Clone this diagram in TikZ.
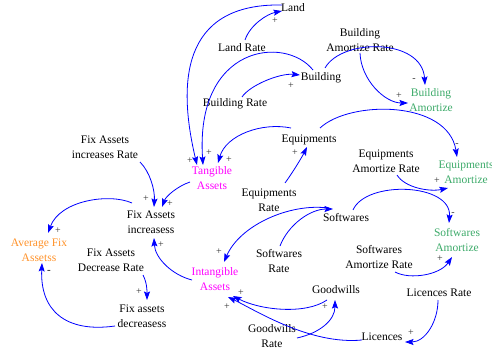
\documentclass[tikz,border=0pt]{standalone}
\usepackage{fontspec}
\setmainfont{Liberation Serif}
\usetikzlibrary{arrows.meta}
\definecolor{linkblue}{RGB}{0,0,255}
\definecolor{amortgreen}{RGB}{60,170,105}
\definecolor{avgorange}{RGB}{255,145,40}
\definecolor{assetpink}{RGB}{255,0,255}
\definecolor{signgray}{RGB}{50,50,50}
\begin{document}
\begin{tikzpicture}[x=1pt,y=-1pt,
  var/.style={inner sep=1pt,align=center,font=\fontsize{11.5}{14.5}\selectfont},
  sign/.style={inner sep=0pt,text=signgray,font=\fontsize{10}{10}\selectfont},
  link/.style={draw=linkblue,line width=0.8pt,-{Stealth[length=8.5pt,width=6pt,inset=1.5pt]}}]
\useasboundingbox (0,0) rectangle (492,353);

% variables
\node[var] (land) at (293,8) {Land};
\node[var] (landrate) at (242,48) {Land Rate};
\node[var] (building) at (321,78) {Building};
\node[var] (buildingrate) at (235,104) {Building Rate};
\node[var] (bar) at (360,40) {Building\\Amortize Rate};
\node[var,text=amortgreen] (bam) at (431,100) {Building\\Amortize};
\node[var,text=assetpink] (tangible) at (212,178) {Tangible\\Assets};
\node[var] (equip) at (309,140) {Equipments};
\node[var] (eqrate) at (269,200) {Equipments\\Rate};
\node[var] (eqar) at (386,161) {Equipments\\Amortize Rate};
\node[var,text=amortgreen] (eqam) at (466,172) {Equipments\\Amortize};
\node[var] (soft) at (346,218) {Softwares};
\node[var,text=amortgreen] (swam) at (457,240) {Softwares\\Amortize};
\node[var] (swar) at (379,257) {Softwares\\Amortize Rate};
\node[var] (swrate) at (279,261) {Softwares\\Rate};
\node[var] (licrate) at (439,293) {Licences Rate};
\node[var] (lic) at (382,337) {Licences};
\node[var] (good) at (336,290) {Goodwills};
\node[var] (goodrate) at (272,336) {Goodwills\\Rate};
\node[var,text=assetpink] (intang) at (215,279) {Intangible\\Assets};
\node[var] (fixrate) at (105,147) {Fix Assets\\increases Rate};
\node[var] (fixinc) at (151,222) {Fix Assets\\increasess};
\node[var,text=avgorange] (avg) at (39,250) {Average Fix\\Assetss};
\node[var] (fixdecrate) at (111,260) {Fix Assets\\Decrease Rate};
\node[var] (fixdec) at (142,316) {Fix assets\\decreasess};

% causal links
\draw[link] ([shift={(3,-8)}]landrate.center) .. controls +(5,-15) and +(-15,3) .. ([shift={(-11,3)}]land.center);
\draw[link] ([shift={(-11,-3)}]land.center) .. controls +(-102,-2) and +(-19,-80) .. ([shift={(-15,-13)}]tangible.center);
\draw[link] ([shift={(-8,-8)}]building.center) .. controls +(-28,-35) and +(-8,-120) .. ([shift={(-9,-13)}]tangible.center);
\draw[link] ([shift={(7,-7)}]buildingrate.center) .. controls +(8,-12) and +(-20,-2) .. ([shift={(-21,-3)}]building.center);
\draw[link] ([shift={(4,-10)}]building.center) .. controls +(17,-30) and +(-3,-47) .. ([shift={(-6,-15)}]bam.center);
\draw[link] ([shift={(0,13)}]bar.center) .. controls +(1,27) and +(-23,0) .. ([shift={(-23,3)}]bam.center);
\draw[link] ([shift={(-18,-12)}]equip.center) .. controls +(-29,-6) and +(8,-28) .. ([shift={(6,-15)}]tangible.center);
\draw[link] ([shift={(16,-17)}]eqrate.center) .. controls +(8,-11) and +(-5,10) .. ([shift={(-2,7)}]equip.center);
\draw[link] ([shift={(11,-12)}]equip.center) .. controls +(30,-28) and +(-9,-57) .. ([shift={(-9,-15)}]eqam.center);
\draw[link] ([shift={(11,14)}]eqar.center) .. controls +(8,13) and +(-18,4) .. ([shift={(-18,16)}]eqam.center);
\draw[link] ([shift={(1,-15)}]swrate.center) .. controls +(8,-21) and +(-23,0) .. ([shift={(-13,-9)}]soft.center);
\draw[link] ([shift={(-18,-10)}]soft.center) .. controls +(-38,-5) and +(16,-37) .. ([shift={(9,-17)}]intang.center);
\draw[link] ([shift={(7,-8)}]soft.center) .. controls +(13,-30) and +(3,-40) .. ([shift={(-8,-17)}]swam.center);
\draw[link] ([shift={(16,15)}]swar.center) .. controls +(15,8) and +(-12,18) .. ([shift={(-5,17)}]swam.center);
\draw[link] ([shift={(-1,7)}]licrate.center) .. controls +(0,22) and +(20,0) .. ([shift={(23,5)}]lic.center);
\draw[link] ([shift={(-20,3)}]lic.center) .. controls +(-52,5) and +(27,13) .. ([shift={(13,18)}]intang.center);
\draw[link] ([shift={(-9,10)}]good.center) .. controls +(-22,15) and +(27,14) .. ([shift={(18,17)}]intang.center);
\draw[link] ([shift={(25,2)}]goodrate.center) .. controls +(23,-5) and +(0,20) .. ([shift={(-1,10)}]good.center);
\draw[link] ([shift={(-22,4)}]tangible.center) .. controls +(-12,4) and +(4,-11) .. ([shift={(11,-15)}]fixinc.center);
\draw[link] ([shift={(35,15)}]fixrate.center) .. controls +(10,10) and +(1,-17) .. ([shift={(3,-15)}]fixinc.center);
\draw[link] ([shift={(-19,-19)}]fixinc.center) .. controls +(-22,-10) and +(12,-33) .. ([shift={(9,-17)}]avg.center);
\draw[link] ([shift={(-23,1)}]intang.center) .. controls +(-20,-5) and +(1,20) .. ([shift={(3,16)}]fixinc.center);
\draw[link] ([shift={(32,15)}]fixdecrate.center) .. controls +(4,8) and +(0,-10) .. ([shift={(5,-16)}]fixdec.center);
\draw[link] ([shift={(-27,10)}]fixdec.center) .. controls +(-50,7) and +(-2,47) .. ([shift={(3,13)}]avg.center);

% polarity signs
\node[sign] (p1) at (275,21) {+};
\node[sign] (p2) at (291,86) {+};
\node[sign] (m1) at (414,80) {-};
\node[sign] (p3) at (399,96) {+};
\node[sign] (p4) at (190,161) {+};
\node[sign] (p5) at (209,153) {+};
\node[sign] (p6) at (229,160) {+};
\node[sign] (p7) at (295,153) {+};
\node[sign] (m2) at (457,145) {-};
\node[sign] (p8) at (437,181) {+};
\node[sign] (m3) at (453,214) {-};
\node[sign] (p9) at (440,259) {+};
\node[sign] (p10) at (219,252) {+};
\node[sign] (p11) at (241,293) {+};
\node[sign] (p12) at (227,307) {+};
\node[sign] (p13) at (325,307) {+};
\node[sign] (p14) at (411,333) {+};
\node[sign] (p15) at (146,199) {+};
\node[sign] (p16) at (170,204) {+};
\node[sign] (p17) at (161,245) {+};
\node[sign] (p18) at (58,231) {+};
\node[sign,font=\bfseries\fontsize{11}{11}\selectfont] (m4) at (49,272) {-};
\node[sign] (p19) at (139,292) {+};
\end{tikzpicture}
\end{document}
